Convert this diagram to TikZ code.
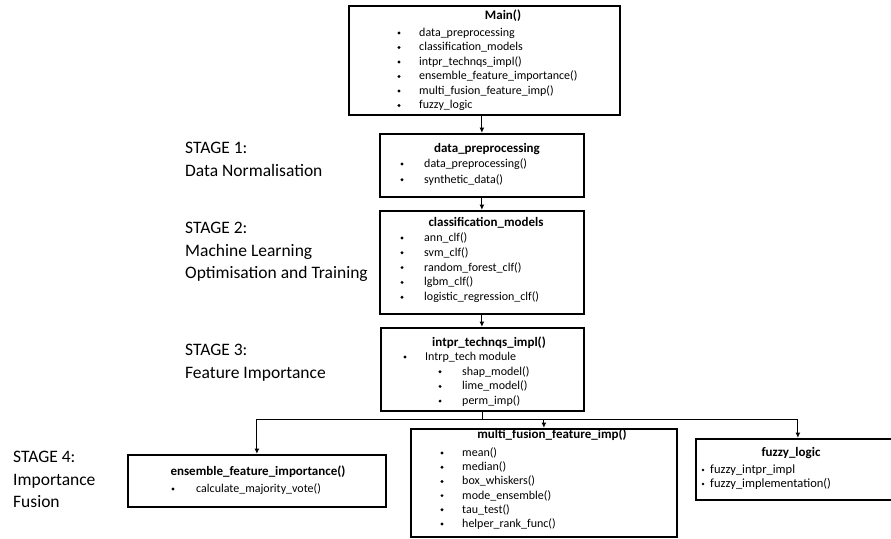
\documentclass[tikz,border=0pt]{standalone}
\usepackage{fontspec}
\setmainfont{Carlito}
\usepackage{tikz}
\usetikzlibrary{arrows.meta,positioning,calc}

\tikzset{
  box/.style={draw, line width=1.8pt, anchor=north west, inner sep=0pt},
  ttl/.style={font=\fontsize{13}{15}\selectfont\bfseries, inner sep=0pt},
  itm/.style={font=\fontsize{12}{14}\selectfont, anchor=west, inner sep=0pt},
  dot/.style={circle, fill, inner sep=0pt, minimum size=3.2pt},
  stage/.style={font=\fontsize{17.5}{22.5}\selectfont, align=left, anchor=north west, inner sep=0pt},
  link/.style={line width=1.1pt, -{Latex[length=5.5pt,width=5pt]}}
}

\begin{document}
\begin{tikzpicture}[x=1pt,y=-1pt]
  \useasboundingbox (0,0) rectangle (891,538);
  \clip (0,0) rectangle (891,538);

  % boxes
  \node[box, minimum width=271pt, minimum height=109pt] (main)  at (348,5)   {};
  \node[box, minimum width=204pt, minimum height=63pt]  (data)  at (379,133) {};
  \node[box, minimum width=204pt, minimum height=103pt] (clf)   at (379,210) {};
  \node[box, minimum width=203pt, minimum height=83pt]  (intpr) at (380,327) {};
  \node[box, minimum width=258pt, minimum height=52pt]  (ens)   at (127,454) {};
  \node[box, minimum width=266pt, minimum height=108pt] (multi) at (410,428) {};
  \node[box, minimum width=204pt, minimum height=61pt]  (fuzzy) at (695,438) {};

  % titles
  \node[ttl] (mainT)  at (503,16)  {Main()};
  \node[ttl] (dataT)  at (487,149) {data\_preprocessing};
  \node[ttl] (clfT)   at (486,223) {classification\_models};
  \node[ttl] (intprT) at (489,343) {intpr\_technqs\_impl()};
  \node[ttl] (ensT)   at (258,472) {ensemble\_feature\_importance()};
  \node[ttl] (multiT) at (552,435) {multi\_fusion\_feature\_imp()};
  \node[ttl] (fuzzyT) at (791,453) {fuzzy\_logic};

  % bullet lists
  \foreach \t [count=\i] in {data\_preprocessing, classification\_models,
      intpr\_technqs\_impl(), ensemble\_feature\_importance(),
      multi\_fusion\_feature\_imp(), fuzzy\_logic} {
    \node[dot] (mainB\i) at (399,{33+14.5*(\i-1)}) {};
    \node[itm] (mainI\i) at (419,{33+14.5*(\i-1)}) {\t};
  }
  \foreach \t [count=\i] in {data\_preprocessing(), synthetic\_data()} {
    \node[dot] (dataB\i) at (402,{164+15.7*(\i-1)}) {};
    \node[itm] (dataI\i) at (424,{164+15.7*(\i-1)}) {\t};
  }
  \foreach \t [count=\i] in {ann\_clf(), svm\_clf(), random\_forest\_clf(),
      lgbm\_clf(), logistic\_regression\_clf()} {
    \node[dot] (clfB\i) at (402,{238+14.8*(\i-1)}) {};
    \node[itm] (clfI\i) at (424,{238+14.8*(\i-1)}) {\t};
  }
  \node[dot] (intprB0) at (405,357) {};
  \node[itm] (intprI0) at (425,357) {Intrp\_tech module};
  \foreach \t [count=\i] in {shap\_model(), lime\_model(), perm\_imp()} {
    \node[dot] (intprB\i) at (440,{357+14.7*\i}) {};
    \node[itm] (intprI\i) at (462,{357+14.7*\i}) {\t};
  }
  \node[dot] (ensB1) at (173,489) {};
  \node[itm] (ensI1) at (196,489) {calculate\_majority\_vote()};
  \foreach \t [count=\i] in {mean(), median(), box\_whiskers(), mode\_ensemble(),
      tau\_test(), helper\_rank\_func()} {
    \node[dot] (multiB\i) at (442,{453+14.2*(\i-1)}) {};
    \node[itm] (multiI\i) at (462,{453+14.2*(\i-1)}) {\t};
  }
  \foreach \t [count=\i] in {fuzzy\_intpr\_impl, fuzzy\_implementation()} {
    \node[dot, minimum size=2.8pt] (fuzzyB\i) at (703,{470+14*(\i-1)}) {};
    \node[itm, font=\fontsize{12.5}{14}\selectfont] (fuzzyI\i) at (710,{470+14*(\i-1)}) {\t};
  }

  % stages
  \node[stage] (st1) at (185,142) {STAGE 1:\\Data Normalisation};
  \node[stage] (st2) at (185,222) {STAGE 2:\\Machine Learning\\Optimisation and Training};
  \node[stage] (st3) at (185,344) {STAGE 3:\\Feature Importance};
  \node[stage] (st4) at (13,451)  {STAGE 4:\\Importance\\Fusion};

  % connectors
  \draw[link] (main.south -| data.north) -- (data.north);
  \draw[link] (data.south) -- (clf.north);
  \draw[link] (clf.south) -- (clf.south |- intpr.north);
  \coordinate (split) at ($(intpr.south)+(0,8)$);
  \draw[link] (intpr.south) -- (split) -| (ens.north);
  \draw[link] (split) -| (fuzzy.north);
  \draw[link] (split -| multi.north) -- (multi.north);
\end{tikzpicture}
\end{document}
